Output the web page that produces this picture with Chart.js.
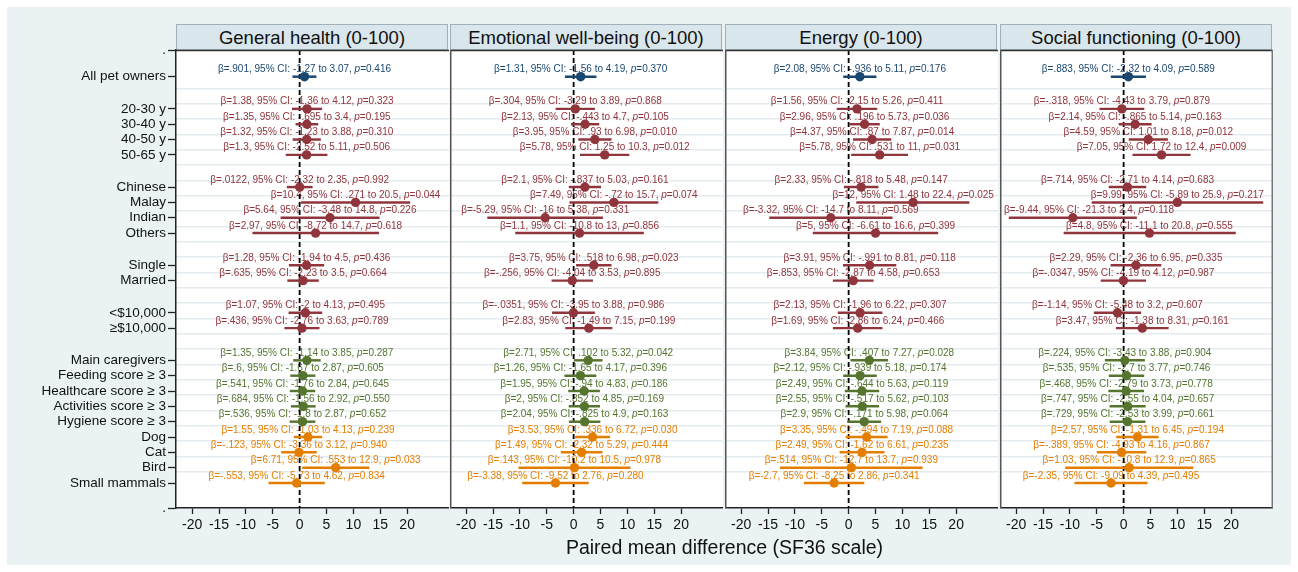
<!DOCTYPE html>
<html>
<head>
<meta charset="utf-8">
<script src="https://cdn.jsdelivr.net/npm/chart.js@4.4.0/dist/chart.umd.min.js"></script>
<style>
body{margin:0;background:#fff;width:1298px;height:572px;overflow:hidden;font-family:"Liberation Sans",Arial,sans-serif;}
#bg{position:absolute;left:7px;top:7px;width:1284px;height:558px;background:#eaf2f3;}
.head{position:absolute;top:24px;height:26px;width:272px;background:#d9e6eb;border:1px solid #9fb0b8;box-sizing:border-box;text-align:center;font-size:18.5px;line-height:25px;color:#111;}
canvas{position:absolute;}
#xtitle{position:absolute;left:176px;width:1097px;top:536px;text-align:center;font-size:19.5px;color:#111;}
</style>
</head>
<body>
<div id="bg"></div>
<div class="head" style="left:176px">General health (0-100)</div>
<div class="head" style="left:450px">Emotional well-being (0-100)</div>
<div class="head" style="left:725px">Energy (0-100)</div>
<div class="head" style="left:1000px">Social functioning (0-100)</div>
<canvas id="c0" width="442" height="510" style="left:7px;top:40px;width:442px;height:510px"></canvas>
<canvas id="c1" width="273" height="510" style="left:450px;top:40px;width:273px;height:510px"></canvas>
<canvas id="c2" width="273" height="510" style="left:725px;top:40px;width:273px;height:510px"></canvas>
<canvas id="c3" width="273" height="510" style="left:1000px;top:40px;width:273px;height:510px"></canvas>
<div id="xtitle">Paired mean difference (SF36 scale)</div>
<script>
// rows (top to bottom) and their positions on the y axis
var rowLabels = ['All pet owners', '20-30 y', '30-40 y', '40-50 y', '50-65 y',
  'Chinese', 'Malay', 'Indian', 'Others', 'Single', 'Married', '<$10,000', '≥$10,000',
  'Main caregivers', 'Feeding score ≥ 3', 'Healthcare score ≥ 3', 'Activities score ≥ 3',
  'Hygiene score ≥ 3', 'Dog', 'Cat', 'Bird', 'Small mammals'];
var rowPos = [0, 2.1, 3.1, 4.1, 5.1, 7.2, 8.2, 9.2, 10.2, 12.3, 13.3, 15.4, 16.4,
  18.5, 19.5, 20.5, 21.5, 22.5, 23.5, 24.5, 25.5, 26.5];
var rowGroup = [0, 1, 1, 1, 1, 1, 1, 1, 1, 1, 1, 1, 1, 2, 2, 2, 2, 2, 3, 3, 3, 3];
var groupColors = ['#1a476f', '#90353b', '#55752f', '#e37e00'];
var xTicks = [-20, -15, -10, -5, 0, 5, 10, 15, 20];

// General health
var ghBeta = [.901, 1.38, 1.35, 1.32, 1.3, .0122, 10.4, 5.64, 2.97, 1.28, .635, 1.07, .436,
  1.35, .6, .541, .684, .536, 1.55, -.123, 6.71, -.553];
var ghLo = [-1.27, -1.36, -.695, -1.23, -2.52, -2.32, .271, -3.48, -8.72, -1.94, -2.23, -2, -2.76,
  -1.14, -1.67, -1.76, -1.56, -1.8, -1.03, -3.36, .553, -5.73];
var ghHi = [3.07, 4.12, 3.4, 3.88, 5.11, 2.35, 20.5, 14.8, 14.7, 4.5, 3.5, 4.13, 3.63,
  3.85, 2.87, 2.84, 2.92, 2.87, 4.13, 3.12, 12.9, 4.62];
var ghP = [.416, .323, .195, .310, .506, .992, .044, .226, .618, .436, .664, .495, .789,
  .287, .605, .645, .550, .652, .239, .940, .033, .834];

// Emotional well-being
var ewBeta = [1.31, .304, 2.13, 3.95, 5.78, 2.1, 7.49, -5.29, 1.1, 3.75, -.256, -.0351, 2.83,
  2.71, 1.26, 1.95, 2, 2.04, 3.53, 1.49, .143, -3.38];
var ewLo = [-1.56, -3.29, -.443, .93, 1.25, -.837, -.72, -16, -10.8, .518, -4.04, -3.95, -1.49,
  .102, -1.65, -.94, -.852, -.825, .336, -2.32, -10.2, -9.52];
var ewHi = [4.19, 3.89, 4.7, 6.98, 10.3, 5.03, 15.7, 5.38, 13, 6.98, 3.53, 3.88, 7.15,
  5.32, 4.17, 4.83, 4.85, 4.9, 6.72, 5.29, 10.5, 2.76];
var ewP = [.370, .868, .105, .010, .012, .161, .074, .331, .856, .023, .895, .986, .199,
  .042, .396, .186, .169, .163, .030, .444, .978, .280];

// Energy
var enBeta = [2.08, 1.56, 2.96, 4.37, 5.78, 2.33, 12, -3.32, 5, 3.91, .853, 2.13, 1.69,
  3.84, 2.12, 2.49, 2.55, 2.9, 3.35, 2.49, .514, -2.7];
var enLo = [-.936, -2.15, .196, .87, .531, -.818, 1.48, -14.7, -6.61, -.991, -2.87, -1.96, -2.86,
  .407, -.939, -.644, -.517, -.171, -.494, -1.62, -12.7, -8.25];
var enHi = [5.11, 5.26, 5.73, 7.87, 11, 5.48, 22.4, 8.11, 16.6, 8.81, 4.58, 6.22, 6.24,
  7.27, 5.18, 5.63, 5.62, 5.98, 7.19, 6.61, 13.7, 2.86];
var enP = [.176, .411, .036, .014, .031, .147, .025, .569, .399, .118, .653, .307, .466,
  .028, .174, .119, .103, .064, .088, .235, .939, .341];

// Social functioning
var sfBeta = [.883, -.318, 2.14, 4.59, 7.05, .714, 9.99, -9.44, 4.8, 2.29, -.0347, -1.14, 3.47,
  .224, .535, .468, .747, .729, 2.57, -.389, 1.03, -2.35];
var sfLo = [-2.32, -4.43, -.865, 1.01, 1.72, -2.71, -5.89, -21.3, -11.1, -2.36, -4.19, -5.48, -1.38,
  -3.43, -2.7, -2.79, -2.55, -2.53, -1.31, -4.93, -10.8, -9.09];
var sfHi = [4.09, 3.79, 5.14, 8.18, 12.4, 4.14, 25.9, 2.4, 20.8, 6.95, 4.12, 3.2, 8.31,
  3.88, 3.77, 3.73, 4.04, 3.99, 6.45, 4.16, 12.9, 4.39];
var sfP = [.589, .879, .163, .012, .009, .683, .217, .118, .555, .335, .987, .607, .161,
  .904, .746, .778, .657, .661, .194, .867, .865, .495];

var panels = [
  {beta: ghBeta, lo: ghLo, hi: ghHi, p: ghP},
  {beta: ewBeta, lo: ewLo, hi: ewHi, p: ewP},
  {beta: enBeta, lo: enLo, hi: enHi, p: enP},
  {beta: sfBeta, lo: sfLo, hi: sfHi, p: sfP}
];

var FONT = '"Liberation Sans", Arial, sans-serif';
var yMin = -1.74, yMax = 28.13;
var rowColors = rowGroup.map(function (g) { return groupColors[g]; });

function fmt(v) {
  return String(Number(v.toPrecision(3))).replace(/^(-?)0\./, '$1.');
}

function panelPlugin(pd, idx) {
  return {
    id: 'panel' + idx,
    beforeDraw: function (chart) {
      var ctx = chart.ctx, a = chart.chartArea;
      ctx.save();
      ctx.fillStyle = '#fff';
      ctx.fillRect(a.left, a.top, a.right - a.left, a.bottom - a.top);
      ctx.restore();
    },
    beforeDatasetsDraw: function (chart) {
      var ctx = chart.ctx, a = chart.chartArea;
      var xs = chart.scales.x, ys = chart.scales.y;
      ctx.save();
      ctx.beginPath();
      ctx.rect(a.left, a.top, a.right - a.left, a.bottom - a.top);
      ctx.clip();
      ctx.textBaseline = 'alphabetic';
      pd.beta.forEach(function (b, i) {
        var s1 = 'β=' + fmt(b) + ', 95% CI: ' + fmt(pd.lo[i]) + ' to ' + fmt(pd.hi[i]) + ', ';
        var s3 = '=' + pd.p[i].toFixed(3);
        ctx.font = '10px ' + FONT;
        var w1 = ctx.measureText(s1).width, w3 = ctx.measureText(s3).width;
        ctx.font = 'italic 10px ' + FONT;
        var w2 = ctx.measureText('p').width;
        var w = w1 + w2 + w3;
        var x0 = xs.getPixelForValue(b) - w / 2;
        if (x0 < a.left + 4) x0 = a.left + 4;
        if (x0 + w > a.right - 2) x0 = a.right - 2 - w;
        var y = ys.getPixelForValue(rowPos[i]) - 4.5;
        ctx.fillStyle = rowColors[i];
        ctx.textAlign = 'left';
        ctx.font = '10px ' + FONT;
        ctx.fillText(s1, x0, y);
        ctx.font = 'italic 10px ' + FONT;
        ctx.fillText('p', x0 + w1, y);
        ctx.font = '10px ' + FONT;
        ctx.fillText(s3, x0 + w1 + w2, y);
      });
      // reference line at zero
      var x0p = xs.getPixelForValue(0);
      ctx.strokeStyle = '#000';
      ctx.lineWidth = 1.8;
      ctx.setLineDash([5, 3]);
      ctx.beginPath();
      ctx.moveTo(x0p, a.top);
      ctx.lineTo(x0p, a.bottom);
      ctx.stroke();
      ctx.restore();
    },
    afterDraw: function (chart) {
      var ctx = chart.ctx, a = chart.chartArea;
      ctx.save();
      ctx.lineWidth = 1.5;
      ctx.strokeStyle = '#333';
      ctx.beginPath();
      ctx.moveTo(a.left, a.top + 0.5);
      ctx.lineTo(a.right, a.top + 0.5);
      ctx.stroke();
      if (idx > 0) {
        ctx.strokeStyle = '#555';
        ctx.beginPath();
        ctx.moveTo(a.left + 0.75, a.top);
        ctx.lineTo(a.left + 0.75, a.bottom);
        ctx.stroke();
      }
      if (idx === 3) {
        ctx.strokeStyle = '#777';
        ctx.beginPath();
        ctx.moveTo(a.right - 0.75, a.top);
        ctx.lineTo(a.right - 0.75, a.bottom);
        ctx.stroke();
      }
      ctx.restore();
    }
  };
}

panels.forEach(function (pd, idx) {
  new Chart(document.getElementById('c' + idx), {
    type: 'scatter',
    data: {
      datasets: [{
        type: 'scatter',
        data: pd.beta.map(function (b, i) { return {x: b, y: rowPos[i]}; }),
        pointRadius: 4.7,
        pointHoverRadius: 4.7,
        pointBackgroundColor: rowColors,
        pointBorderWidth: 0,
        order: 0
      }, {
        type: 'bar',
        indexAxis: 'y',
        data: pd.lo.map(function (l, i) { return {x: [l, pd.hi[i]], y: rowPos[i]}; }),
        backgroundColor: rowColors,
        borderWidth: 0,
        barThickness: 1.8,
        order: 1
      }]
    },
    options: {
      responsive: false,
      animation: false,
      layout: {autoPadding: false, padding: {top: 10, right: 0, bottom: 0, left: 0}},
      plugins: {legend: {display: false}, tooltip: {enabled: false}},
      scales: {
        x: {
          type: 'linear', min: -23, max: 27.79, offset: false,
          afterBuildTicks: function (s) { s.ticks = xTicks.map(function (v) { return {value: v}; }); },
          afterFit: function (s) { s.height = 42; s.paddingLeft = 0; s.paddingRight = 0; },
          ticks: {autoSkip: false, maxRotation: 0, padding: 3, color: '#111', font: {size: 14, family: FONT}},
          grid: {offset: false, drawOnChartArea: false, tickLength: 6, tickColor: '#222', tickWidth: 1.3},
          border: {color: '#222', width: 1.5}
        },
        y: {
          type: 'linear', reverse: true, min: yMin, max: yMax, offset: false,
          display: idx === 0,
          afterBuildTicks: function (s) {
            s.ticks = [yMin].concat(rowPos, [yMax]).map(function (v) { return {value: v}; });
          },
          afterFit: function (s) { s.width = idx === 0 ? 169 : 0; s.paddingTop = 0; s.paddingBottom = 0; },
          ticks: {
            autoSkip: false, padding: 2, color: '#111', font: {size: 13.5, family: FONT},
            callback: function (v, i) { return (i === 0 || i === rowPos.length + 1) ? '.' : rowLabels[i - 1]; }
          },
          grid: {offset: false, drawOnChartArea: false, tickLength: 8, tickColor: '#222', tickWidth: 1.3},
          border: {color: '#222', width: 1.5}
        },
        yg: {
          type: 'linear', reverse: true, min: yMin, max: yMax, position: 'right', offset: false,
          afterBuildTicks: function (s) {
            var t = [];
            for (var k = 0; k < 26; k++) t.push({value: 0.757 + k});
            s.ticks = t;
          },
          afterFit: function (s) { s.width = 0; s.paddingTop = 0; s.paddingBottom = 0; },
          ticks: {display: false},
          grid: {offset: false, color: '#e4ecef', lineWidth: 1.5, drawTicks: false},
          border: {display: false}
        }
      }
    },
    plugins: [panelPlugin(pd, idx)]
  });
});
</script>
</body>
</html>
